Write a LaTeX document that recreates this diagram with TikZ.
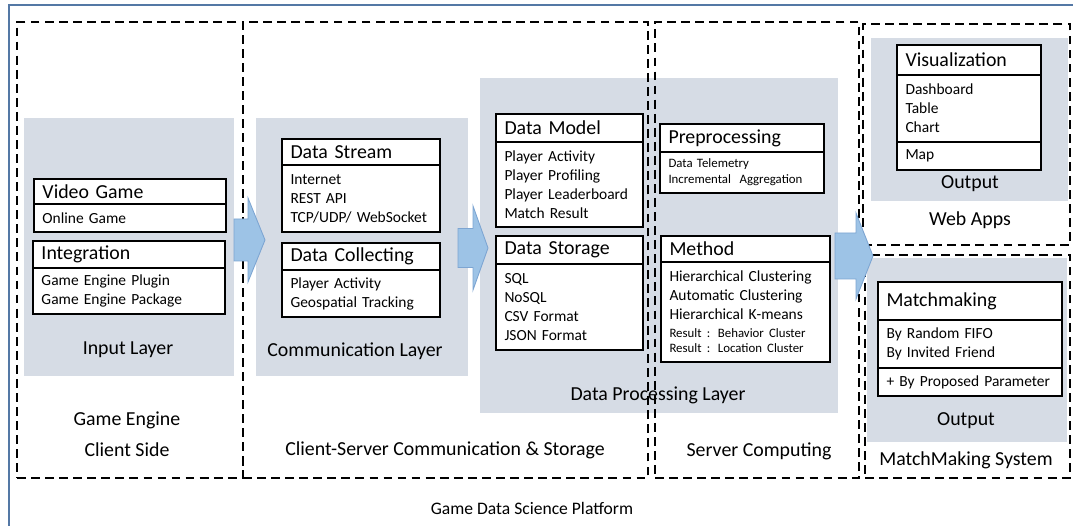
\documentclass[tikz,border=0pt]{standalone}
\usepackage{fontspec}
\setmainfont{Carlito}
\usetikzlibrary{positioning,fit}

\definecolor{panelgray}{RGB}{214,220,229}
\definecolor{framebl}{RGB}{84,120,165}
\definecolor{arrowbl}{RGB}{157,195,230}
\definecolor{arrowln}{RGB}{125,165,210}

\newcommand\headfnt{\fontsize{11.3}{13.5}\selectfont}
\newcommand\itemfnt{\fontsize{8.8}{10.8}\selectfont}
\newcommand\smallfnt{\fontsize{7.3}{9}\selectfont}

\begin{document}
\begin{tikzpicture}[
  x=0.02cm, y=-0.02cm,
  panel/.style={fill=panelgray, inner sep=0pt, outer sep=0pt},
  zone/.style={draw, dash pattern=on 5pt off 3pt, line width=1.2pt, inner sep=0pt},
  head/.style={draw, fill=white, line width=0.9pt, outer sep=0pt, inner xsep=0.17cm,
               inner ysep=0pt, align=left, font=\headfnt},
  item/.style={head, font=\itemfnt},
  lbl/.style={font=\headfnt, align=center},
  blk/.style={draw=arrowln, fill=arrowbl, line width=0.5pt, line join=miter}]
  \useasboundingbox (0,0) rectangle (1073,526);
  \draw[framebl, line width=1.2pt] (9,526) |- (1073,5);

  % layer panels
  \node[panel, fit={(24,118) (234,376)}] (inl) {};
  \node[panel, fit={(256,118) (468,376)}] (coml) {};
  \node[panel, fit={(480,78) (838,413)}] (dpl) {};
  \node[panel, fit={(871,38) (1068,201)}] (webout) {};
  \node[panel, fit={(867,258) (1067,442)}] (mmout) {};

  \node[lbl] (linp) at (128,350) {Input Layer};
  \node[lbl] (lcom) at (355,351) {Communication Layer};
  \node[lbl] (ldpl) at (658,395) {Data Processing Layer};
  \node[lbl] (lweb) at (970,184) {Output};
  \node[lbl] (lmm) at (966,421) {Output};
  \node[lbl] (zcli-l) at (127,434) {Game Engine\\[4pt]Client Side};
  \node[lbl] (zcom-l) at (445,450) {Client-Server Communication \& Storage};
  \node[lbl] (zsrv-l) at (759,451) {Server Computing};
  \node[lbl] (zweb-l) at (970,220) {Web Apps};
  \node[lbl] (zmm-l) at (966,460) {MatchMaking System};
  \node[lbl, font=\fontsize{10}{12}\selectfont] (plat) at (532,508) {Game Data Science Platform};

  % dashed zones
  \node[zone, fit={(17,22) (243,478)}] (zcli) {};
  \node[zone, fit={(243,22) (648,478)}] (zcom) {};
  \node[zone, fit={(655,22) (859,478)}] (zsrv) {};
  \node[zone, fit={(863,24) (1070,245)}] (zweb) {};
  \node[zone, fit={(865,255) (1070,478)}] (zmm) {};

  % input layer
  \node[head, anchor=north west, text width=3.50cm, minimum height=0.50cm] (vg) at (34,179) {Video Game};
  \node[item, below=0pt of vg, text width=3.50cm, minimum height=0.56cm] (vgb) {Online Game};
  \node[head, anchor=north west, text width=3.50cm, minimum height=0.54cm] (ig) at (33,241) {Integration};
  \node[item, below=0pt of ig, text width=3.50cm, minimum height=0.92cm] (igb) {Game Engine Plugin\\Game Engine Package};

  % communication layer
  \node[head, anchor=north west, text width=2.82cm, minimum height=0.52cm] (ds) at (282,139) {Data Stream};
  \node[item, below=0pt of ds, text width=2.82cm, minimum height=1.34cm] (dsb) {Internet\\REST API\\TCP/UDP/ WebSocket};
  \node[head, anchor=north west, text width=2.82cm, minimum height=0.54cm] (dc) at (282,243) {Data Collecting};
  \node[item, below=0pt of dc, text width=2.82cm, minimum height=0.94cm] (dcb) {Player Activity\\Geospatial Tracking};

  % data processing layer
  \node[head, anchor=north west, text width=2.60cm, minimum height=0.56cm] (dm) at (496,114) {Data Model};
  \node[item, below=0pt of dm, text width=2.60cm, minimum height=1.70cm] (dmb) {Player Activity\\Player Profiling\\Player Leaderboard\\Match Result};
  \node[head, anchor=north west, text width=2.60cm, minimum height=0.56cm] (dst) at (496,236) {Data Storage};
  \node[item, below=0pt of dst, text width=2.60cm, minimum height=1.72cm] (dstb) {SQL\\NoSQL\\CSV Format\\JSON Format};
  \node[head, anchor=north west, text width=2.94cm, minimum height=0.56cm] (pre) at (660,124) {Preprocessing};
  \node[item, below=0pt of pre, text width=2.94cm, minimum height=0.82cm, font=\smallfnt] (preb) {Data Telemetry\\Incremental~~Aggregation};
  \node[head, anchor=north west, text width=3.04cm, minimum height=0.52cm] (mt) at (661,236) {Method};
  \node[item, below=0pt of mt, text width=3.04cm, minimum height=2.00cm] (mtb) {Hierarchical Clustering\\Automatic Clustering\\Hierarchical K-means\\[-1pt]
    {\smallfnt Result : Behavior Cluster}\\[-2pt]{\smallfnt Result : Location Cluster}};

  % outputs
  \node[head, anchor=north west, text width=2.54cm, minimum height=0.60cm] (vis) at (897,45) {Visualization};
  \node[item, below=0pt of vis, text width=2.54cm, minimum height=1.34cm] (visb) {Dashboard\\Table\\Chart};
  \node[item, below=0pt of visb, text width=2.54cm, minimum height=0.56cm] (visc) {Map};
  \node[head, anchor=north west, text width=3.34cm, minimum height=0.76cm] (mk) at (878,282) {Matchmaking};
  \node[item, below=0pt of mk, text width=3.34cm, minimum height=0.96cm] (mkb) {By Random FIFO\\By Invited Friend};
  \node[item, below=0pt of mkb, text width=3.34cm, minimum height=0.56cm] (mkc) {+ By Proposed Parameter};

  % flow arrows: tail, shaft/head half widths, shaft/head lengths
  \foreach \nm/\tx/\ty/\sh/\hh/\bl/\hl in {a1/234/240/21/42/14/17,
      a2/458/248/19.5/42/15/15, a3/835/256/23/43/21/17} {
    \coordinate (\nm) at (\tx,\ty);
    \draw[blk] (\nm) ++(0,-\sh) -- ++(\bl,0) -- ++(0,\sh-\hh) -- ++(\hl,\hh)
      -- ++(-\hl,\hh) -- ++(0,\sh-\hh) -- ++(-\bl,0) -- cycle;
  }
\end{tikzpicture}
\end{document}
